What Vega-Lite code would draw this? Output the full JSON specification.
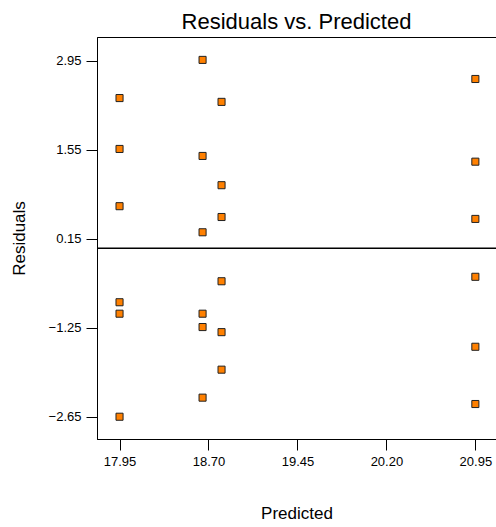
{
  "$schema": "https://vega.github.io/schema/vega-lite/v6.json",
  "width": 399,
  "height": 402,
  "autosize": {"type": "none"},
  "padding": {"left": 97, "top": 37, "right": 0, "bottom": 88},
  "background": "white",
  "title": {"text": "Residuals vs. Predicted", "font": "Liberation Sans", "fontSize": 22, "fontWeight": "normal", "color": "black", "anchor": "middle", "offset": 3},
  "config": {
    "view": {"stroke": "black", "strokeWidth": 1},
    "axis": {"labelFont": "Liberation Sans", "titleFont": "Liberation Sans", "labelFontSize": 13, "titleFontSize": 17, "titleFontWeight": "normal", "labelColor": "black", "titleColor": "black", "domainColor": "black", "tickColor": "black", "tickSize": 11, "grid": false}
  },
  "data": {"values": [
    {"predicted": 17.95, "residual": 2.36},
    {"predicted": 17.95, "residual": 1.56},
    {"predicted": 17.95, "residual": 0.66},
    {"predicted": 17.95, "residual": -0.85},
    {"predicted": 17.95, "residual": -1.03},
    {"predicted": 17.95, "residual": -2.65},
    {"predicted": 18.65, "residual": 2.96},
    {"predicted": 18.65, "residual": 1.45},
    {"predicted": 18.65, "residual": 0.25},
    {"predicted": 18.65, "residual": -1.03},
    {"predicted": 18.65, "residual": -1.24},
    {"predicted": 18.65, "residual": -2.35},
    {"predicted": 18.81, "residual": 2.30},
    {"predicted": 18.81, "residual": 0.99},
    {"predicted": 18.81, "residual": 0.49},
    {"predicted": 18.81, "residual": -0.52},
    {"predicted": 18.81, "residual": -1.32},
    {"predicted": 18.81, "residual": -1.91},
    {"predicted": 20.95, "residual": 2.66},
    {"predicted": 20.95, "residual": 1.36},
    {"predicted": 20.95, "residual": 0.46},
    {"predicted": 20.95, "residual": -0.45},
    {"predicted": 20.95, "residual": -1.55},
    {"predicted": 20.95, "residual": -2.45}
  ]},
  "layer": [
    {
      "data": {"values": [{"zero": 0}]},
      "mark": {"type": "rule", "color": "black", "strokeWidth": 1.5},
      "encoding": {"y": {"field": "zero", "type": "quantitative", "scale": {"domain": [-3.0, 3.32]}}}
    },
    {
      "mark": {"type": "square", "filled": true, "fill": "#FF8000", "stroke": "#222222", "strokeWidth": 1, "size": 50, "opacity": 1},
      "encoding": {
        "x": {"field": "predicted", "type": "quantitative", "title": "Predicted",
              "scale": {"domain": [17.76, 21.124], "nice": false, "zero": false},
              "axis": {"values": [17.95, 18.70, 19.45, 20.20, 20.95], "format": ".2f", "labelPadding": 5, "titleY": 74, "titleBaseline": "middle"}},
        "y": {"field": "residual", "type": "quantitative", "title": "Residuals",
              "scale": {"domain": [-3.0, 3.32], "nice": false, "zero": false},
              "axis": {"values": [-2.65, -1.25, 0.15, 1.55, 2.95], "format": ".2f", "labelPadding": 5, "titleX": -78, "titleBaseline": "middle"}}
      }
    }
  ]
}
